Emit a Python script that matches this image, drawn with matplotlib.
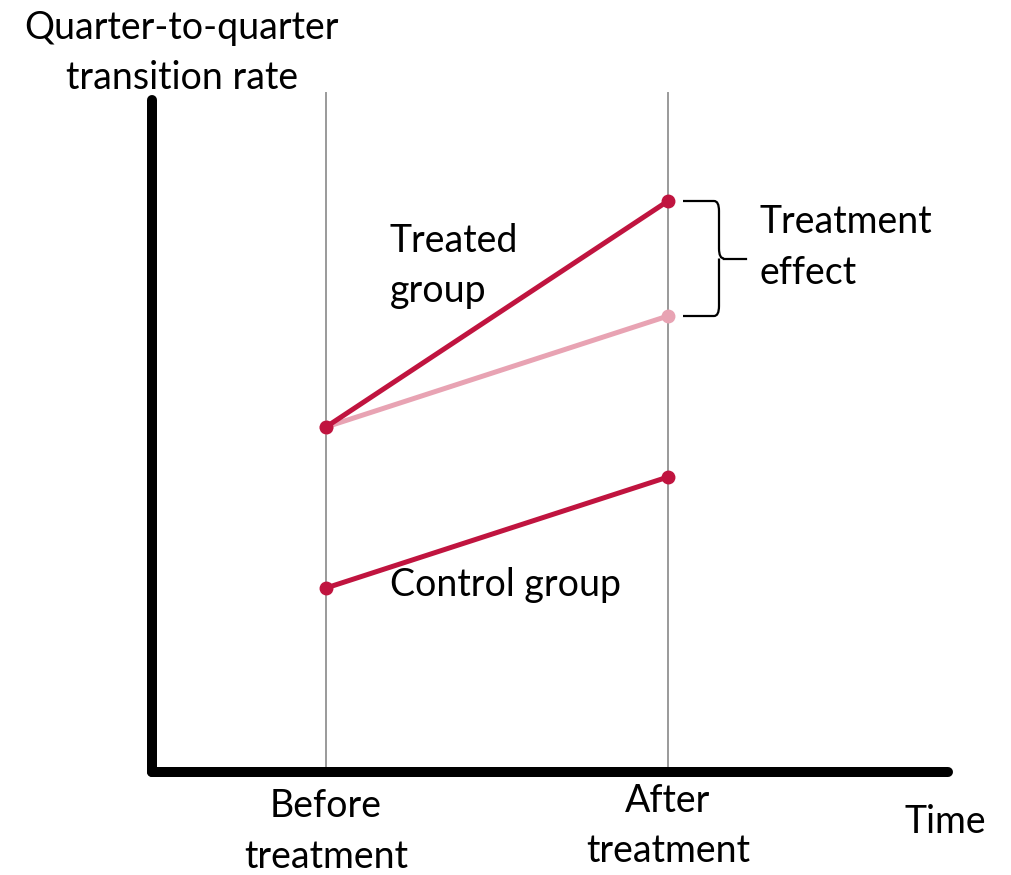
import matplotlib
matplotlib.use("Agg")
import matplotlib.pyplot as plt
import numpy as np
from matplotlib.path import Path
from matplotlib.patches import PathPatch

# ---- data ----
periods = ["Before\ntreatment", "After\ntreatment"]
period_x = [1.0, 2.0]
treated = [3.45, 5.71]
control = [1.84, 2.95]
counterfactual = [3.45, 4.56]

RED = "#C0143F"
PINK = "#E8A3B3"
GRAY = "#9A9A9A"

plt.rcParams['font.family'] = ['Lato', 'DejaVu Sans']

W, H = 1012, 875
fig = plt.figure(figsize=(W / 100, H / 100), dpi=100)
# axes placed in pixel terms
x0, x1, ytop, ybot = 152, 948, 100, 772
ax = fig.add_axes([x0 / W, (H - ybot) / H, (x1 - x0) / W, (ybot - ytop) / H])
ax.set_xlim(1 - (326 - x0) / 342, 1 + (x1 - 326) / 342)
ax.set_ylim(0, (ybot - ytop) / 100)

for s in ["top", "right"]:
    ax.spines[s].set_visible(False)
for s in ["left", "bottom"]:
    ax.spines[s].set_linewidth(7.2)
    ax.spines[s].set_color("black")
    ax.spines[s].set_capstyle("round")
ax.set_xticks([])
ax.set_yticks([])

# vertical reference lines
for xp in period_x:
    ax.plot([xp, xp], [0, 6.79], color=GRAY, lw=1.4, clip_on=False, zorder=1)

lw, ms = 3.6, 9
ax.plot(period_x, counterfactual, color=PINK, lw=lw, marker="o", ms=ms,
        solid_capstyle="round", zorder=2)
ax.plot(period_x, treated, color=RED, lw=lw, marker="o", ms=ms,
        solid_capstyle="round", zorder=3)
ax.plot(period_x, control, color=RED, lw=lw, marker="o", ms=ms,
        solid_capstyle="round", zorder=3)

# brace
px = 1 / 342.0
ytop_b, ybot_b = treated[1], counterfactual[1]
ymid = (ytop_b + ybot_b) / 2
xa = 2 + 15 * px
xb = 2 + 46 * px
xc = 2 + 51 * px
xd = 2 + 56 * px
xe = 2 + 78 * px
r = 0.10
verts = [
    (xa, ytop_b), (xb, ytop_b), (xc, ytop_b), (xc, ytop_b - r),
    (xc, ymid + r), (xc, ymid), (xd, ymid),
    (xc, ymid), (xc, ymid - r),
    (xc, ybot_b + r), (xc, ybot_b), (xb, ybot_b), (xa, ybot_b),
]
codes = [Path.MOVETO, Path.LINETO, Path.CURVE3, Path.CURVE3,
         Path.LINETO, Path.CURVE3, Path.CURVE3,
         Path.MOVETO, Path.CURVE3,
         Path.LINETO, Path.CURVE3, Path.CURVE3, Path.LINETO]
ax.add_patch(PathPatch(Path(verts, codes), fill=False, lw=1.6, color="black",
                       clip_on=False))
ax.plot([xd, xe], [ymid, ymid], color="black", lw=1.6, clip_on=False)

fs = 27
ls = 1.5
ax.text(1.0 + 64 * px, 5.06, "Treated\ngroup", fontsize=fs, ha="left", va="center",
        linespacing=ls)
ax.text(2 + 92 * px, 5.245, "Treatment\neffect", fontsize=fs, ha="left", va="center",
        linespacing=ls)
ax.text(1.0 + 64 * px, 1.87, "Control group", fontsize=fs, ha="left", va="center")

# period labels
ax.text(period_x[0], -0.595, periods[0], fontsize=fs, ha="center", va="center",
        linespacing=ls, clip_on=False)
ax.text(period_x[1], -0.54, periods[1], fontsize=fs, ha="center", va="center",
        linespacing=ls, clip_on=False)
fig.text(945 / W, 1 - 822 / H, "Time", fontsize=fs, ha="center", va="center")
fig.text(182 / W, 1 - 53 / H, "Quarter-to-quarter\ntransition rate", fontsize=fs,
         ha="center", va="center", linespacing=ls)

fig.savefig("out.png", dpi=100)
